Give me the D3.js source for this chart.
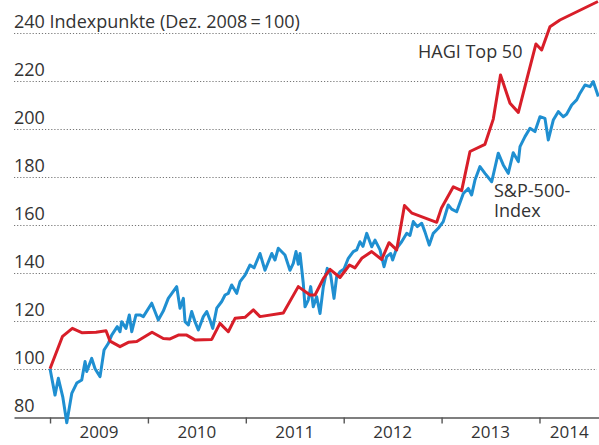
<!DOCTYPE html>
<html>
<head>
<meta charset="utf-8">
<script src="https://cdn.jsdelivr.net/npm/d3@7"></script>
<style>
  html, body { margin: 0; padding: 0; background: #fff; }
  svg { display: block; font-family: "Open Sans", sans-serif; }
</style>
</head>
<body>
<div id="chart"></div>
<script>
// y-axis ticks (first one carries the unit label)
const yTicks = [100, 120, 140, 160, 180, 200, 220, 240];
const years = [2009, 2010, 2011, 2012, 2013, 2014];

// HAGI Top 50 (decimal year / index value)
const hagiTime = [2009.0, 2009.128, 2009.228, 2009.324, 2009.470, 2009.572, 2009.613, 2009.715, 2009.800, 2009.886,
  2010.042, 2010.157, 2010.226, 2010.311, 2010.396, 2010.481, 2010.652, 2010.736, 2010.821, 2010.890, 2010.992,
  2011.077, 2011.145, 2011.383, 2011.536, 2011.656, 2011.707, 2011.792, 2011.860, 2011.962,
  2012.059, 2012.115, 2012.184, 2012.286, 2012.388, 2012.463, 2012.541, 2012.621, 2012.698, 2012.950, 2012.999,
  2013.120, 2013.205, 2013.290, 2013.443, 2013.528, 2013.602, 2013.699, 2013.784, 2013.869, 2013.964,
  2014.022, 2014.107, 2014.209, 2014.597];
const hagiValues = [100, 113.5, 116.8, 115, 115.2, 115.8, 111.5, 109.2, 111, 111.3,
  115.2, 112.6, 112.4, 114, 114, 112, 112.2, 118.9, 115.4, 121, 121.4,
  124.5, 121.7, 123.2, 134.2, 130.7, 130.7, 137.5, 141.4, 138,
  143.2, 142, 146, 148.8, 145.5, 152.5, 149.5, 168, 164.8, 161, 167,
  175.8, 174.2, 190.5, 193.5, 204, 222.4, 210.6, 206.8, 220.3, 235.3,
  232.8, 242.5, 245.3, 253];

// S&P-500-Index
const spxTime = [2009.0, 2009.051, 2009.085, 2009.130, 2009.171, 2009.222, 2009.273, 2009.324, 2009.358, 2009.375,
  2009.426, 2009.460, 2009.511, 2009.552, 2009.596, 2009.630, 2009.687, 2009.715, 2009.732, 2009.776,
  2009.810, 2009.835, 2009.878, 2009.919, 2009.953, 2010.039, 2010.106, 2010.157, 2010.208, 2010.294,
  2010.328, 2010.362, 2010.379, 2010.413, 2010.447, 2010.481, 2010.515, 2010.566, 2010.601, 2010.634,
  2010.662, 2010.703, 2010.754, 2010.788, 2010.821, 2010.856, 2010.907, 2010.941, 2010.992, 2011.043,
  2011.084, 2011.145, 2011.196, 2011.265, 2011.298, 2011.332, 2011.400, 2011.451, 2011.485, 2011.513,
  2011.536, 2011.554, 2011.587, 2011.605, 2011.638, 2011.663, 2011.689, 2011.724, 2011.758, 2011.792,
  2011.832, 2011.867, 2011.901, 2011.928, 2011.962, 2012.003, 2012.047, 2012.098, 2012.133, 2012.166,
  2012.197, 2012.235, 2012.286, 2012.320, 2012.371, 2012.412, 2012.439, 2012.480, 2012.500, 2012.541,
  2012.592, 2012.644, 2012.677, 2012.711, 2012.752, 2012.797, 2012.830, 2012.874, 2012.915, 2012.966,
  2013.017, 2013.068, 2013.103, 2013.154, 2013.222, 2013.273, 2013.307, 2013.341, 2013.392, 2013.443,
  2013.512, 2013.579, 2013.630, 2013.681, 2013.732, 2013.784, 2013.801, 2013.852, 2013.903, 2013.954,
  2014.005, 2014.056, 2014.090, 2014.141, 2014.192, 2014.243, 2014.277, 2014.329, 2014.380, 2014.414,
  2014.465, 2014.516, 2014.550, 2014.601];
const spxValues = [100, 89, 96, 88.3, 77.5, 89.7, 94, 95.3, 103, 98.8,
  104.3, 100, 96.7, 107.8, 110.6, 114, 117.5, 115.4, 119.6, 116.8,
  122.4, 115.4, 122.4, 122.4, 121.7, 127.3, 120.3, 124, 129.3, 134.2,
  125.2, 129.3, 119.6, 118.2, 123.8, 119.6, 116.1, 121.7, 123.8, 120.3,
  116.8, 125.2, 128, 130.7, 131.4, 134.9, 131.4, 136.3, 139, 143.2,
  142, 148, 141, 148, 145.3, 150.2, 147.4, 141, 143.9, 148.8,
  143.5, 148, 135.6, 125.8, 128.6, 134.2, 125.8, 130, 123, 134.2,
  141.8, 139, 129.3, 138.3, 140.4, 141.5, 146, 148.8, 149.5, 152.9,
  151, 156.4, 150.8, 153.6, 149.5, 142.5, 146.7, 148, 145.3, 150.2,
  152.9, 156.4, 155.5, 161.3, 159.2, 160.6, 157, 151.5, 156.4, 158.5,
  161.3, 168.2, 166.5, 165.4, 173, 175.1, 172.4, 178.6, 184.2, 181.4,
  177.9, 189.8, 184.9, 181.4, 190, 186.3, 192.5, 196.7, 200.2, 198.8,
  205, 204.3, 195.3, 203.6, 207.1, 205, 206, 209.9, 212, 214.8,
  218.2, 217.5, 219.6, 213.4];

const W = 599, H = 445;
const red = "#d81e29", blue = "#1f8fd1", ink = "#333";

const svg = d3.select("#chart").append("svg")
  .attr("width", W)
  .attr("height", H);

// scales
const x = d3.scaleLinear().domain([2008.632, 2014.608]).range([14, 599]);
const y = d3.scaleLinear().domain([80, 240]).range([416.7, 32.7]);

// grid
svg.append("g")
  .selectAll("line")
  .data(yTicks)
  .join("line")
  .attr("x1", 14)
  .attr("x2", 597)
  .attr("y1", d => Math.round(y(d)) + 0.5)
  .attr("y2", d => Math.round(y(d)) + 0.5)
  .attr("stroke", "#777")
  .attr("stroke-width", 1.2)
  .attr("stroke-dasharray", "1.2,1.9");

// y labels
svg.append("g")
  .selectAll("text")
  .data([80].concat(yTicks))
  .join("text")
  .attr("x", 14)
  .attr("y", d => y(d) - 5)
  .attr("fill", ink)
  .style("font-size", "18px")
  .text(d => d === 240 ? "240 Indexpunkte (Dez. 2008\u2009=\u2009100)" : d);

// x axis
const xAxis = svg.append("g")
  .attr("transform", `translate(0,${Math.round(y(80)) + 0.5})`)
  .call(d3.axisBottom(x).tickValues(years).tickSize(6).tickSizeOuter(0).tickFormat(""));
xAxis.select(".domain").attr("stroke", "#555").attr("stroke-width", 1.4);
xAxis.selectAll(".tick line").attr("stroke", "#555").attr("stroke-width", 1.4);

svg.append("g")
  .selectAll("text")
  .data(years)
  .join("text")
  .attr("x", d => d === 2014 ? (x(2014) + 599) / 2 : x(d + 0.5))
  .attr("y", 438)
  .attr("text-anchor", "middle")
  .attr("fill", ink)
  .style("font-size", "17px")
  .text(d => d);

// lines
const line = d3.line()
  .x(d => x(d[0]))
  .y(d => y(d[1]))
  .curve(d3.curveLinear);

svg.append("path")
  .datum(d3.zip(spxTime, spxValues))
  .attr("fill", "none")
  .attr("stroke", blue)
  .attr("stroke-width", 3)
  .attr("stroke-linejoin", "round")
  .attr("d", line);

svg.append("path")
  .datum(d3.zip(hagiTime, hagiValues))
  .attr("fill", "none")
  .attr("stroke", red)
  .attr("stroke-width", 3)
  .attr("stroke-linejoin", "round")
  .attr("d", line);

// series labels
svg.append("text")
  .attr("x", 418)
  .attr("y", 58)
  .attr("fill", ink)
  .style("font-size", "18px")
  .text("HAGI Top 50");

const spxLabel = svg.append("text")
  .attr("x", 494)
  .attr("y", 197)
  .attr("fill", ink)
  .style("font-size", "18px");
spxLabel.append("tspan").attr("x", 494).text("S&P-500-");
spxLabel.append("tspan").attr("x", 494).attr("dy", 20).text("Index");
</script>
</body>
</html>
